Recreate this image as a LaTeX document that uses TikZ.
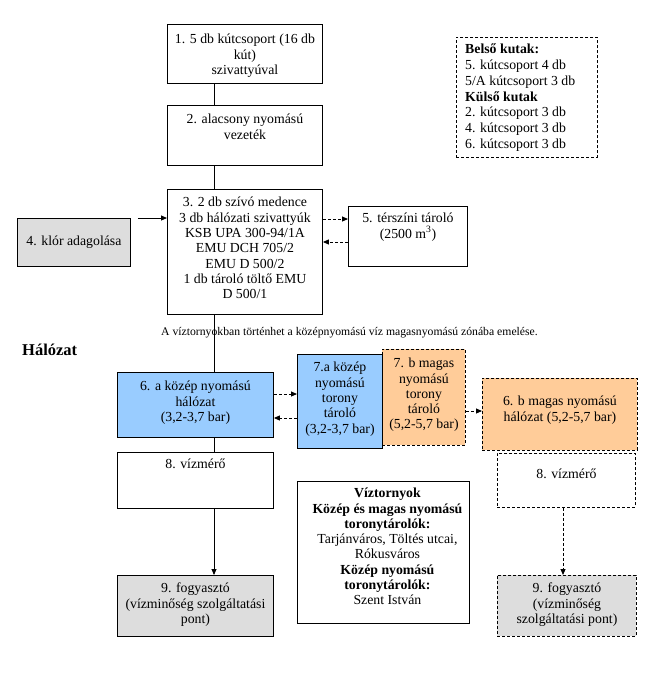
\documentclass[tikz,border=0pt]{standalone}
\usepackage{fontspec}
\setmainfont{Liberation Serif}
\usetikzlibrary{arrows.meta}

\definecolor{kozepkek}{RGB}{153,204,255}
\definecolor{magasnarancs}{RGB}{255,204,153}
\definecolor{szurke}{RGB}{221,221,221}

\tikzset{
  box/.style={draw, line width=0.9pt, anchor=north west, inner sep=0pt},
  dashbox/.style={box, dash pattern=on 3pt off 2pt},
  txt/.style={font=\fontsize{13.8}{15.3}\selectfont, align=center},
  inlbl/.style={txt, anchor=north, inner sep=0pt, yshift=-#1},
  inlbl/.default=8pt,
  link/.style={line width=0.9pt},
  arr/.style={link, -{Triangle[length=6pt,width=5pt]}},
  dasharr/.style={arr, dash pattern=on 3pt off 2pt},
}

\begin{document}
\begin{tikzpicture}[x=1pt,y=-1pt]
  \useasboundingbox (0,0) rectangle (656,673);

  % helper lines for the connectors
  \coordinate (ax) at (214,0);  % main vertical line
  \coordinate (bx) at (563,0);  % high pressure branch
  \coordinate (r1) at (0,219);
  \coordinate (r2) at (0,242);
  \coordinate (r3) at (0,394);
  \coordinate (r4) at (0,418);
  \coordinate (r5) at (0,411);

  % upper part
  \node[box, minimum width=155pt, minimum height=59pt,
    label={[inlbl=10pt]north:{1. 5 db kútcsoport (16 db\\kút)\\szivattyúval}}] (kut) at (167,24) {};
  \node[box, minimum width=155pt, minimum height=60pt,
    label={[inlbl=9pt]north:{2. alacsony nyomású\\vezeték}}] (vezetek) at (167,105) {};
  \node[box, minimum width=155pt, minimum height=125pt,
    label={[inlbl]north:{3. 2 db szívó medence\\3 db hálózati szivattyúk\\KSB UPA 300-94/1A\\EMU DCH 705/2\\EMU D 500/2\\1 db tároló töltő EMU\\D 500/1}}] (medence) at (167,189) {};
  \node[box, txt, fill=szurke, minimum width=113pt, minimum height=48pt] (klor) at (17,218) {4. klór adagolása};
  \node[box, minimum width=119pt, minimum height=60pt,
    label={[inlbl=7pt]north:{5. térszíni tároló\\(2500 m\textsuperscript{3})}}] (tarolo) at (348,206) {};

  % well groups
  \node[dashbox, minimum width=141pt, minimum height=120pt,
    label={[txt, font=\fontsize{13.8}{15.7}\selectfont, align=left, anchor=north west, inner sep=0pt, xshift=9pt, yshift=-7pt]north west:{\textbf{Belső kutak:}\\5. kútcsoport 4 db\\5/A kútcsoport 3 db\\\textbf{Külső kutak}\\2. kútcsoport 3 db\\4. kútcsoport 3 db\\6. kútcsoport 3 db}}] (kutak) at (456,37) {};

  \node[font=\fontsize{11.7}{13}\selectfont] (emeles) at (349.5,333) {A víztornyokban történhet a középnyomású víz magasnyomású zónába emelése.};
  \node[font=\fontsize{16.5}{18}\selectfont\bfseries, anchor=west, inner sep=0pt] (halozat) at (22,350) {Hálózat};

  % network
  \node[box, fill=kozepkek, minimum width=156pt, minimum height=65pt,
    label={[inlbl=9pt]north:{6. a közép nyomású\\hálózat\\(3,2-3,7 bar)}}] (kozep) at (117,372) {};
  \node[dashbox, fill=magasnarancs, minimum width=83pt, minimum height=96pt,
    label={[inlbl=9pt]north:{7. b magas\\nyomású\\torony\\tároló\\(5,2-5,7 bar)}}] (toronymag) at (382,349) {};
  \node[box, fill=kozepkek, minimum width=85pt, minimum height=94pt,
    label={[inlbl]north:{7.a közép\\nyomású\\torony\\tároló\\(3,2-3,7 bar)}}] (toronykozep) at (297,354) {};
  \node[dashbox, fill=magasnarancs, minimum width=155pt, minimum height=72pt,
    label={[inlbl=18pt]north:{6. b magas nyomású\\hálózat (5,2-5,7 bar)}}] (magas) at (482,378) {};

  \node[box, minimum width=156pt, minimum height=56pt,
    label={[inlbl=7pt]north:{8. vízmérő}}] (mero) at (117,452) {};
  \node[dashbox, minimum width=138pt, minimum height=54pt,
    label={[inlbl=16pt]north:{8. vízmérő}}] (meromag) at (497,453) {};

  \node[box, fill=szurke, minimum width=156pt, minimum height=61pt,
    label={[inlbl]north:{9. fogyasztó\\(vízminőség szolgáltatási\\pont)}}] (fogy) at (117,575) {};
  \node[dashbox, fill=szurke, minimum width=139pt, minimum height=61pt,
    label={[inlbl]north:{9. fogyasztó\\(vízminőség\\szolgáltatási pont)}}] (fogymag) at (497,575) {};

  \node[box, minimum width=172pt, minimum height=142pt,
    label={[inlbl=7pt, xshift=4pt]north:{\textbf{Víztornyok}\\\textbf{Közép és magas nyomású}\\\textbf{toronytárolók:}\\Tarjánváros, Töltés utcai,\\Rókusváros\\\textbf{Közép nyomású}\\\textbf{toronytárolók:}\\Szent István}}] (viztorony) at (297,481) {};

  % connectors
  \draw[link] (kut.south -| ax) -- (vezetek.north -| ax);
  \draw[link] (vezetek.south -| ax) -- (medence.north -| ax);
  \draw[arr] ([xshift=7pt]klor.north east) -- (medence.west |- klor.north east);
  \draw[dasharr] (medence.east |- r1) -- (tarolo.west |- r1);
  \draw[dasharr] (tarolo.west |- r2) -- (medence.east |- r2);
  \draw[link] (medence.south -| ax) -- (kozep.north -| ax);
  \draw[dasharr] (kozep.east |- r3) -- (toronykozep.west |- r3);
  \draw[dasharr] (toronykozep.west |- r4) -- (kozep.east |- r4);
  \draw[dasharr] (toronymag.east |- r5) -- (magas.west |- r5);
  \draw[link] (kozep.south -| ax) -- (mero.north -| ax);
  \draw[arr] (mero.south -| ax) -- (fogy.north -| ax);
  \draw[dasharr] (meromag.south -| bx) -- (fogymag.north -| bx);
\end{tikzpicture}
\end{document}
